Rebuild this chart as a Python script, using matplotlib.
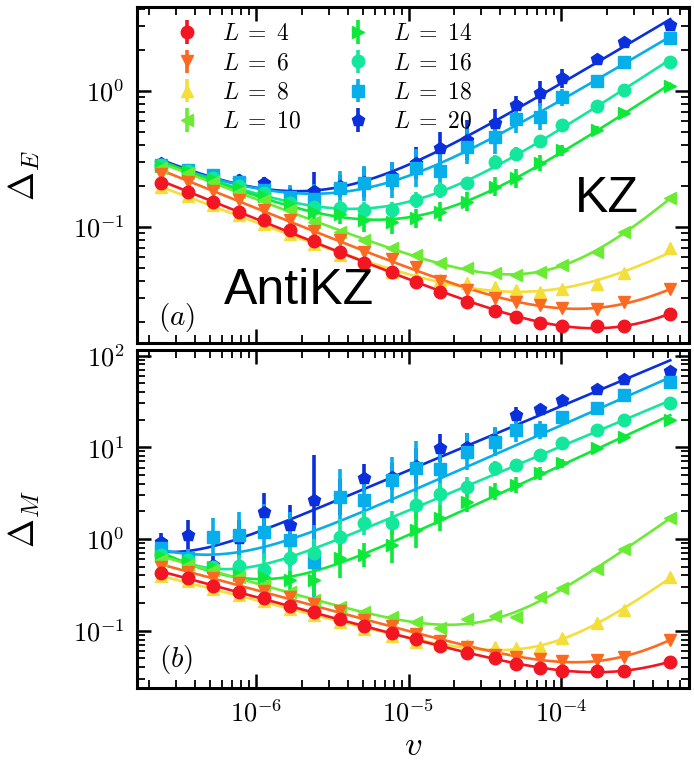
import numpy as np
import matplotlib.pyplot as plt

plt.rcParams['mathtext.fontset'] = 'cm'
plt.rcParams['font.family'] = 'serif'
plt.rcParams['font.serif'] = ['cmr10', 'DejaVu Serif']
plt.rcParams['axes.formatter.use_mathtext'] = True

# system sizes, colours and markers
sizes = [4, 6, 8, 10, 14, 16, 18, 20]
colors = ['#f21622', '#fb6a20', '#f4de3a', '#6ceb35',
          '#0ee83a', '#13e79b', '#06aeea', '#0a2fdc']
markers = ['o', 'v', '^', '<', '>', 'o', 's', 'p']

# driving rate v
v = [2.4e-7, 3.6e-7, 5.2e-7, 7.7e-7, 1.13e-6, 1.67e-6, 2.4e-6, 3.55e-6,
     5.1e-6, 7.8e-6, 1.12e-5, 1.62e-5, 2.4e-5, 3.7e-5, 5.1e-5, 7.3e-5,
     1.02e-4, 1.72e-4, 2.6e-4, 5.2e-4]

# panel (a): Delta_E
dE_4 = [0.208, 0.181, 0.153, 0.129, 0.112, 0.0946, 0.0789, 0.0655, 0.0538, 0.0464,
        0.0394, 0.0333, 0.0281, 0.0241, 0.0216, 0.0197, 0.0186, 0.0187, 0.0187, 0.0227]
dE_6 = [0.244, 0.212, 0.184, 0.157, 0.133, 0.112, 0.0935, 0.0798, 0.0655, 0.0579,
        0.0505, 0.0401, 0.0342, 0.0299, 0.0279, 0.0266, 0.0252, 0.0248, 0.0279, 0.0346]
dE_8 = [0.196, 0.168, 0.144, 0.122, 0.105, 0.0884, 0.0746, 0.0619, 0.0523, 0.0464,
        0.0427, 0.0406, 0.0384, 0.0362, 0.0342, 0.0333, 0.0348, 0.0379, 0.0454, 0.0694]
dE_10 = [0.269, 0.247, 0.214, 0.181, 0.157, 0.133, 0.109, 0.0919, 0.0798, 0.0697,
         0.0619, 0.0538, 0.0494, 0.0454, 0.0441, 0.0467, 0.0523, 0.0655, 0.0919, 0.162]
dE_14 = [0.279, 0.257, 0.224, 0.193, 0.168, 0.147, 0.128, 0.124, 0.112, 0.109,
         0.115, 0.129, 0.153, 0.197, 0.227, 0.293, 0.366, 0.514, 0.689, 1.083]
dE_16 = [0.284, 0.257, 0.228, 0.199, 0.177, 0.149, 0.140, 0.137, 0.133, 0.133,
         0.157, 0.186, 0.208, 0.298, 0.342, 0.429, 0.560, 0.776, 1.012, 1.634]
dE_18 = [0.284, 0.261, 0.240, 0.214, 0.186, 0.165, 0.160, 0.192, 0.208, 0.220,
         0.269, 0.257, 0.388, 0.459, 0.619, 0.644, 0.894, 1.179, 1.618, 2.429]
dE_20 = [0.294, 0.261, 0.236, 0.220, 0.208, 0.171, 0.184, 0.199, 0.214, 0.236,
         0.294, 0.377, 0.434, 0.579, 0.785, 0.957, 1.234, 1.702, 2.293, 3.041]

# panel (a) error bars, half width in decades
dE_err = {
    14: [0, 0, 0, 0.01, 0.02, 0.03, 0.06, 0.07, 0.09, 0.09,
         0.07, 0.07, 0.07, 0.07, 0.07, 0.06, 0.04, 0.03, 0.02, 0],
    16: [0, 0, 0, 0.02, 0.03, 0.04, 0.05, 0.06, 0.06, 0.06,
         0.06, 0.06, 0.05, 0.05, 0.05, 0.04, 0.03, 0.02, 0.01, 0],
    18: [0, 0.02, 0.04, 0.06, 0.07, 0.09, 0.11, 0.13, 0.13, 0.13,
         0.14, 0.14, 0.13, 0.13, 0.10, 0.10, 0.06, 0.03, 0.02, 0],
    20: [0, 0.02, 0.03, 0.04, 0.05, 0.06, 0.14, 0.08, 0.11, 0.10,
         0.12, 0.12, 0.15, 0.10, 0.07, 0.09, 0.07, 0.03, 0.02, 0],
}

# panel (b): Delta_M
dM_4 = [0.423, 0.373, 0.310, 0.262, 0.226, 0.187, 0.159, 0.133, 0.111, 0.0937,
        0.0802, 0.0681, 0.0567, 0.0500, 0.0430, 0.0389, 0.0363, 0.0363, 0.0363, 0.0459]
dM_6 = [0.499, 0.440, 0.373, 0.329, 0.273, 0.231, 0.194, 0.164, 0.131, 0.111,
        0.0921, 0.0778, 0.0659, 0.0543, 0.0513, 0.0491, 0.0471, 0.0479, 0.0513, 0.0792]
dM_8 = [0.395, 0.348, 0.285, 0.245, 0.211, 0.172, 0.148, 0.124, 0.103, 0.0875,
        0.0753, 0.0707, 0.0698, 0.0659, 0.0643, 0.0659, 0.0826, 0.120, 0.168, 0.388]
dM_10 = [0.590, 0.521, 0.459, 0.388, 0.315, 0.266, 0.216, 0.183, 0.161, 0.142,
         0.123, 0.107, 0.134, 0.143, 0.141, 0.235, 0.290, 0.471, 0.772, 1.681]
dM_14 = [0.653, 0.561, 0.495, 0.405, 0.385, 0.353, 0.353, 0.616, 0.669, 0.860,
         1.254, 1.681, 2.551, 3.280, 3.880, 5.206, 6.692, 9.752, 12.85, 19.85]
dM_16 = [0.669, 0.590, 0.495, 0.508, 0.459, 0.616, 0.698, 1.060, 1.483, 1.483,
         2.319, 3.095, 3.718, 5.902, 6.412, 8.241, 11.06, 15.44, 19.85, 30.64]
dM_18 = [0.792, 0.616, 1.060, 1.106, 1.201, 0.975, 0.566, 2.893, 2.663, 4.399,
         5.902, 5.755, 8.954, 11.51, 15.44, 15.44, 21.56, 26.63, 37.19, 51.93]
dM_20 = [0.935, 1.106, 0.521, 1.025, 1.985, 1.421, 2.630, 2.871, 4.591, 4.780,
         6.254, 9.752, 10.15, 12.01, 22.50, 25.97, 32.80, 42.91, 55.15, 68.44]

# panel (b) error bars, half width in decades
dM_err = {
    14: [0.02, 0.03, 0.05, 0.15, 0.13, 0.10, 0.17, 0.22, 0.13, 0.20,
         0.20, 0.14, 0.11, 0.09, 0.09, 0.07, 0.05, 0.03, 0.02, 0],
    16: [0.03, 0.05, 0.08, 0.12, 0.18, 0.19, 0.16, 0.19, 0.13, 0.13,
         0.15, 0.12, 0.10, 0.08, 0.07, 0.05, 0.04, 0.03, 0.02, 0],
    18: [0.08, 0.10, 0.20, 0.25, 0.30, 0.30, 0.40, 0.30, 0.25, 0.25,
         0.30, 0.25, 0.20, 0.16, 0.13, 0.10, 0.06, 0.04, 0.03, 0],
    20: [0.09, 0.16, 0.10, 0.20, 0.20, 0.22, 0.50, 0.20, 0.15, 0.15,
         0.20, 0.15, 0.15, 0.13, 0.09, 0.06, 0.04, 0.03, 0.02, 0],
}

dE = [dE_4, dE_6, dE_8, dE_10, dE_14, dE_16, dE_18, dE_20]
dM = [dM_4, dM_6, dM_8, dM_10, dM_14, dM_16, dM_18, dM_20]


def power_fit(x, y):
    # fit y = A t^p + B t^q (antiKZ + KZ branch), grid over the exponents
    t = x / 1e-5
    best = None
    for p in np.linspace(-1.2, 0.1, 53):
        for q in np.linspace(0.1, 2.0, 58):
            M = np.column_stack([t**p, t**q]) / y[:, None]
            c = np.linalg.lstsq(M, np.ones_like(y), rcond=None)[0]
            if np.any(c <= 0):
                continue
            r = np.sum(np.log10(M @ c) ** 2)
            if best is None or r < best[0]:
                best = (r, p, q, c)
    _, p, q, c = best
    return lambda xx: c[0] * (xx / 1e-5)**p + c[1] * (xx / 1e-5)**q


def draw(ax, data, errs):
    x = np.array(v)
    handles = {}
    # largest L first so the small systems sit on top
    for i in reversed(range(len(sizes))):
        L = sizes[i]
        y = np.array(data[i])
        e = np.array(errs.get(L, np.zeros(len(x))))
        lo = y - y / 10**e
        hi = y * 10**e - y

        f = power_fit(x, y)
        xs = np.geomspace(x[0], x[-1], 300)
        ax.plot(xs, f(xs), color=colors[i], lw=1.9)

        h = ax.errorbar(x, y, yerr=[lo, hi], fmt=markers[i], color=colors[i],
                        ms=9, elinewidth=2.6, capsize=0)
        handles[L] = h
    return handles


fig = plt.figure(figsize=(6.94, 7.65), dpi=100)
ax1 = fig.add_axes([0.1974, 0.5516, 0.7954, 0.4392])
ax2 = fig.add_axes([0.1974, 0.1007, 0.7954, 0.4418])

h1 = draw(ax1, dE, dE_err)
draw(ax2, dM, dM_err)

for ax in (ax1, ax2):
    ax.set_xscale('log')
    ax.set_yscale('log')
    ax.set_xlim(1.66e-7, 6.9e-4)
    ax.tick_params(which='both', direction='in', top=True, right=True, labelsize=19)
    ax.tick_params(which='major', length=10, width=1.8)
    ax.tick_params(which='minor', length=5.5, width=1.3)
    ax.tick_params(axis='y', pad=9)
    ax.tick_params(axis='x', pad=8)
    for s in ax.spines.values():
        s.set_linewidth(2.2)

ax1.set_ylim(0.01396, 4.125)
ax2.set_ylim(0.0237, 115)
ax1.tick_params(labelbottom=False)

ax1.set_ylabel(r'$\Delta_E$', fontsize=25)
ax2.set_ylabel(r'$\Delta_M$', fontsize=25)
ax1.yaxis.set_label_coords(-0.172, 0.5)
ax2.yaxis.set_label_coords(-0.172, 0.5)
ax2.set_xlabel(r'$v$', fontsize=25)
ax2.xaxis.set_label_coords(0.5, -0.125)

ax1.text(0.071, 0.077, r'$(a)$', transform=ax1.transAxes, fontsize=21,
         ha='center', va='center')
ax2.text(0.071, 0.083, r'$(b)$', transform=ax2.transAxes, fontsize=21,
         ha='center', va='center')

ax1.text(0.293, 0.155, 'AntiKZ', transform=ax1.transAxes, fontsize=36,
         family='Liberation Sans', ha='center', va='center')
ax1.text(0.851, 0.43, 'KZ', transform=ax1.transAxes, fontsize=36,
         family='Liberation Sans', ha='center', va='center')

ax1.legend([h1[L] for L in sizes], [rf'$L\;=\;{L}$' for L in sizes], ncol=2,
           loc='upper left', bbox_to_anchor=(0.03, 1.015), frameon=False,
           fontsize=17, handlelength=1.0, handletextpad=1.0,
           columnspacing=1.9, labelspacing=0.3)

fig.savefig('out.png', dpi=100)
